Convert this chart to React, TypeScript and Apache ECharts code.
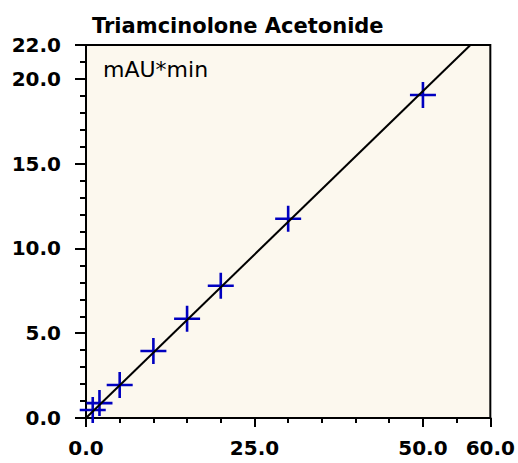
import React, { useEffect, useRef } from "react";
import * as echarts from "echarts";

const titleText = "Triamcinolone Acetonide";
const unitText = "mAU*min";
const concentrations = [1, 2, 5, 10, 15, 20, 30, 50];
const areas = [0.47, 0.88, 1.95, 3.95, 5.85, 7.8, 11.75, 19.05];
const fitX = [0, 57.05];
const fitY = [0, 22];
const xMajorTicks = [0, 25, 50, 60];
const yMajorTicks = [0, 5, 10, 15, 20, 22];

const crossPath =
  "path://M-1.3,-13H1.3V-1.3H13V1.3H1.3V13H-1.3V1.3H-13V-1.3H-1.3Z";

export default function App() {
  const ref = useRef<HTMLDivElement>(null);
  useEffect(() => {
    document.body.style.margin = "0";
    const chart = echarts.init(ref.current!, null, { renderer: "svg" });
    const font = "'DejaVu Sans', sans-serif";
    const labelStyle = {
      color: "#000",
      fontFamily: font,
      fontWeight: "bold" as const,
      fontSize: 20,
    };
    const baseX = {
      type: "value" as const,
      min: 0,
      max: 60,
      position: "bottom" as const,
      offset: 10,
      splitLine: { show: false },
      axisLine: { show: true, lineStyle: { color: "#000", width: 2 } },
    };
    const baseY = {
      type: "value" as const,
      min: 0,
      max: 22,
      position: "left" as const,
      offset: 9,
      splitLine: { show: false },
      axisLine: { show: true, lineStyle: { color: "#000", width: 2 } },
    };
    chart.setOption({
      animation: false,
      title: {
        text: titleText,
        left: 92,
        top: 15,
        padding: 0,
        textStyle: { fontFamily: font, fontWeight: "bold", fontSize: 21, color: "#000" },
      },
      graphic: [
        {
          type: "text",
          left: 103,
          top: 58,
          style: { text: unitText, fontFamily: font, fontSize: 22, fill: "#000" },
        },
      ],
      grid: {
        left: 86,
        right: 25,
        top: 45,
        bottom: 45,
        show: true,
        backgroundColor: "#fcf8ee",
        borderColor: "#000",
        borderWidth: 2,
      },
      xAxis: [
        {
          ...baseX,
          interval: 5,
          axisTick: { show: true, length: 5, lineStyle: { color: "#000", width: 2 } },
          axisLabel: { show: false },
        },
        {
          ...baseX,
          interval: 5,
          axisTick: {
            show: true,
            length: 9,
            customValues: xMajorTicks,
            lineStyle: { color: "#000", width: 2 },
          },
          axisLabel: {
            show: true,
            customValues: xMajorTicks,
            margin: 10,
            formatter: (v: number) => v.toFixed(1),
            ...labelStyle,
          },
        },
      ],
      yAxis: [
        {
          ...baseY,
          interval: 1,
          axisTick: { show: true, length: 6, lineStyle: { color: "#000", width: 2 } },
          axisLabel: { show: false },
        },
        {
          ...baseY,
          interval: 1,
          axisTick: {
            show: true,
            length: 11,
            customValues: yMajorTicks,
            lineStyle: { color: "#000", width: 2 },
          },
          axisLabel: {
            show: true,
            customValues: yMajorTicks,
            margin: 16,
            formatter: (v: number) => v.toFixed(1),
            ...labelStyle,
          },
        },
      ],
      series: [
        {
          type: "line",
          xAxisIndex: 0,
          yAxisIndex: 0,
          data: fitX.map((x, i) => [x, fitY[i]]),
          symbol: "none",
          lineStyle: { color: "#000", width: 2 },
          clip: true,
          silent: true,
        },
        {
          type: "scatter",
          xAxisIndex: 0,
          yAxisIndex: 0,
          data: concentrations.map((x, i) => [x, areas[i]]),
          symbol: crossPath,
          symbolSize: 26,
          itemStyle: { color: "#0000c0", opacity: 1 },
          clip: false,
        },
      ],
    });
    return () => chart.dispose();
  }, []);
  return <div ref={ref} style={{ width: 518, height: 463 }} />;
}
